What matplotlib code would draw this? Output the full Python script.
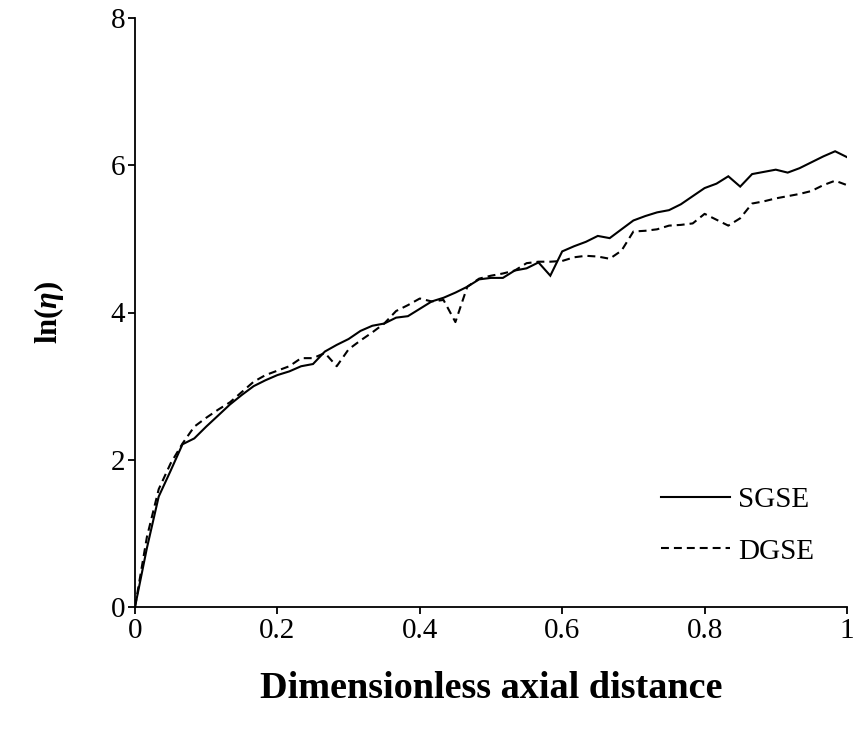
import matplotlib
matplotlib.use("Agg")
import matplotlib.pyplot as plt

# Axial positions (dimensionless) and ln(eta) profiles for both schemes
axial = [0.0, 0.0167, 0.0333, 0.05, 0.0667, 0.0833, 0.1, 0.1167, 0.1333, 0.15,
         0.1667, 0.1833, 0.2, 0.2167, 0.2333, 0.25, 0.2667, 0.2833, 0.3, 0.3167,
         0.3333, 0.35, 0.3667, 0.3833, 0.4, 0.4167, 0.4333, 0.45, 0.4667, 0.4833,
         0.5, 0.5167, 0.5333, 0.55, 0.5667, 0.5833, 0.6, 0.6167, 0.6333, 0.65,
         0.6667, 0.6833, 0.7, 0.7167, 0.7333, 0.75, 0.7667, 0.7833, 0.8, 0.8167,
         0.8333, 0.85, 0.8667, 0.8833, 0.9, 0.9167, 0.9333, 0.95, 0.9667, 0.9833,
         1.0]

sgse = [0.00, 0.80, 1.50, 1.85, 2.21, 2.29, 2.45, 2.60, 2.75, 2.88,
        3.00, 3.08, 3.15, 3.20, 3.27, 3.30, 3.47, 3.56, 3.64, 3.75,
        3.82, 3.85, 3.93, 3.95, 4.05, 4.15, 4.20, 4.27, 4.35, 4.45,
        4.47, 4.47, 4.57, 4.60, 4.68, 4.50, 4.83, 4.90, 4.96, 5.04,
        5.01, 5.13, 5.25, 5.31, 5.36, 5.39, 5.47, 5.58, 5.69, 5.75,
        5.85, 5.71, 5.88, 5.91, 5.94, 5.90, 5.96, 6.04, 6.12, 6.19,
        6.11]

dgse = [0.00, 0.95, 1.60, 1.95, 2.22, 2.45, 2.57, 2.68, 2.78, 2.92,
        3.06, 3.15, 3.21, 3.27, 3.38, 3.38, 3.45, 3.27, 3.50, 3.62,
        3.73, 3.85, 4.02, 4.10, 4.19, 4.15, 4.17, 3.87, 4.35, 4.46,
        4.50, 4.53, 4.57, 4.67, 4.69, 4.69, 4.70, 4.75, 4.77, 4.76,
        4.73, 4.84, 5.10, 5.11, 5.13, 5.18, 5.19, 5.21, 5.34, 5.26,
        5.18, 5.28, 5.48, 5.51, 5.55, 5.58, 5.61, 5.65, 5.73, 5.79,
        5.73]

x_ticks = [0, 0.2, 0.4, 0.6, 0.8, 1]
x_tick_labels = ["0", "0.2", "0.4", "0.6", "0.8", "1"]
y_ticks = [0, 2, 4, 6, 8]
y_tick_labels = ["0", "2", "4", "6", "8"]

plt.rcParams["font.family"] = ["Liberation Serif", "DejaVu Serif"]
plt.rcParams["mathtext.fontset"] = "custom"
plt.rcParams["mathtext.rm"] = "Liberation Serif"
plt.rcParams["mathtext.bf"] = "Liberation Serif:bold"
plt.rcParams["mathtext.it"] = "Liberation Serif:italic"
plt.rcParams["mathtext.bfit"] = "Liberation Serif:italic:bold"

FS = 21

fig = plt.figure(figsize=(8.57, 7.32), dpi=100)
ax = fig.add_axes([135 / 857, 125 / 732, 712 / 857, 589 / 732])

ax.plot(axial, sgse, color="black", lw=1.5, label="SGSE", solid_joinstyle="miter")
ax.plot(axial, dgse, color="black", lw=1.5, dashes=(3.8, 2.4), label="DGSE")

ax.set_xlim(0, 1)
ax.set_ylim(0, 8)
ax.set_xticks(x_ticks)
ax.set_xticklabels(x_tick_labels)
ax.set_yticks(y_ticks)
ax.set_yticklabels(y_tick_labels)
ax.tick_params(direction="out", length=5, width=1.3, labelsize=FS, colors="black")
ax.tick_params(axis="x", pad=3)
ax.tick_params(axis="y", pad=2)

for side in ("top", "right"):
    ax.spines[side].set_visible(False)
for side in ("left", "bottom"):
    ax.spines[side].set_linewidth(1.3)

ax.set_xlabel("Dimensionless axial distance", fontsize=27.5, fontweight="bold", labelpad=19)
ax.set_ylabel(r"$\mathbf{ln(}\mathbfit{\eta}\mathbf{)}$", fontsize=22, labelpad=32)

ax.legend(loc="upper left", bbox_to_anchor=(661 / 857, 1 - 487 / 732),
          bbox_transform=fig.transFigure, frameon=False, fontsize=FS,
          handlelength=2.36, handletextpad=0.28, labelspacing=0.85, borderpad=0,
          borderaxespad=0)

fig.savefig("out.png", dpi=100)
